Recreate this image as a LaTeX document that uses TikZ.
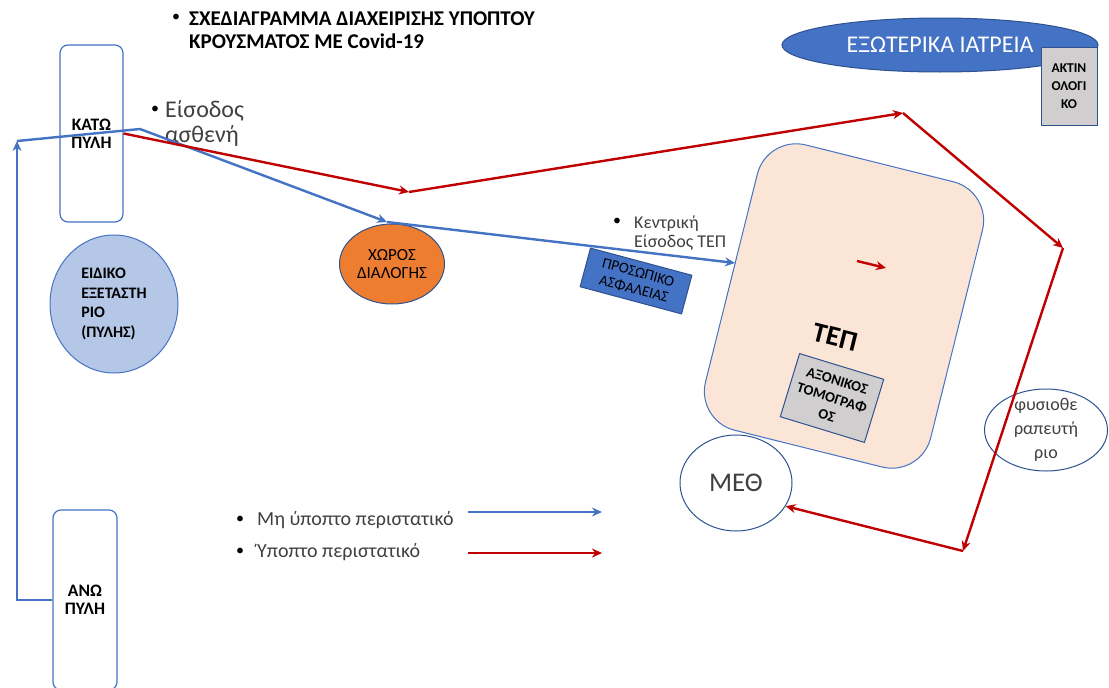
\documentclass[tikz,border=0pt]{standalone}
\usepackage{fontspec}
\setmainfont{Carlito}
\usetikzlibrary{shapes.geometric,positioning,arrows.meta}
\definecolor{flowblue}{HTML}{4472C4}
\definecolor{edgeblue}{HTML}{2F528F}
\definecolor{flowred}{HTML}{C00000}
\definecolor{tepfill}{HTML}{FBE5D6}
\definecolor{roomgray}{HTML}{D0CECE}
\definecolor{triage}{HTML}{ED7D31}
\definecolor{paleblue}{HTML}{B4C7E7}
\definecolor{textgray}{HTML}{404040}
\newcommand{\setfs}[2]{\fontsize{#1}{#2}\selectfont}

\begin{document}
\begin{tikzpicture}[x=1pt,y=-1pt,>={Stealth[length=10pt,width=9pt]},
  gate node/.style={draw=flowblue,line width=1.2pt,rounded corners=8pt,align=center,inner sep=0pt,font=\bfseries\setfs{17.5}{18}},
  room node/.style={draw=edgeblue,line width=1pt,align=center,inner sep=0pt},
  plain text/.style={align=left,inner sep=0pt,text=textgray},
  bullet/.style={inner sep=0pt,font=\setfs{16}{16}},
  blueflow/.style={draw=flowblue,line width=2.4pt},
  redflow/.style={draw=flowred,line width=2.4pt}]

  \useasboundingbox[fill=white] (0,0) rectangle (1109,688);

  % title
  \node[bullet] (tbul) at (176,18) {•};
  \node[anchor=west,align=left,inner sep=0pt,font=\bfseries\setfs{21}{23}] (title) at (189,30)
    {ΣΧΕΔΙΑΓΡΑΜΜΑ ΔΙΑΧΕΙΡΙΣΗΣ ΥΠΟΠΤΟΥ\\ΚΡΟΥΣΜΑΤΟΣ ΜΕ Covid-19};

  % gates and rooms
  \node[gate node,minimum width=63pt,minimum height=177pt] (kato) at (91.5,133.5) {ΚΑΤΩ\\ΠΥΛΗ};
  \node[gate node,minimum width=64pt,minimum height=180pt] (ano) at (85,600) {ΑΝΩ\\ΠΥΛΗ};
  \node[room node,ellipse,fill=paleblue,draw=flowblue,minimum width=128pt,minimum height=138pt,
    align=left,font=\bfseries\setfs{16}{19.5}] (exam) at (114,304) {ΕΙΔΙΚΟ\\ΕΞΕΤΑΣΤΗ\\ΡΙΟ\\(ΠΥΛΗΣ)};
  \node[room node,ellipse,fill=triage,minimum width=105pt,minimum height=80pt,
    font=\setfs{17}{18}] (xoros) at (392,264) {ΧΩΡΟΣ\\ΔΙΑΛΟΓΗΣ};
  \node[room node,fill=flowblue,rotate=-15,minimum width=105pt,minimum height=40pt,
    text=black,font=\setfs{15}{17}] (staff) at (636,281) {ΠΡΟΣΩΠΙΚΟ\\ΑΣΦΑΛΕΙΑΣ};
  \node[room node,draw=flowblue,fill=tepfill,rounded corners=40pt,rotate=-14,
    minimum width=232pt,minimum height=294pt] (tep) at (844,306) {};
  \node[rotate=-14,inner sep=0pt,font=\bfseries\setfs{28}{30}] (teplabel) at (835,337) {ΤΕΠ};
  \node[room node,fill=roomgray,rotate=-17,minimum width=88pt,minimum height=66pt,
    font=\bfseries\setfs{14.5}{18}] (ct) at (832,398) {ΑΞΟΝΙΚΟΣ\\ΤΟΜΟΓΡΑΦ\\ΟΣ};
  \node[room node,ellipse,minimum width=112pt,minimum height=96pt,text=textgray,
    font=\setfs{27}{30}] (meth) at (736,483) {ΜΕΘ};
  \node[room node,ellipse,minimum width=123pt,minimum height=82pt] (physio) at (1046,430) {};
  \node[plain text,align=center,font=\setfs{18}{24}] (physiolabel) at (physio) {φυσιοθε\\ραπευτή\\ριο};
  \node[room node,ellipse,fill=flowblue,minimum width=316pt,minimum height=54pt,
    text=white,font=\setfs{24}{26}] (outpat) at (940,45) {ΕΞΩΤΕΡΙΚΑ ΙΑΤΡΕΙΑ};
  \node[room node,fill=roomgray,minimum width=56pt,minimum height=78pt,
    font=\bfseries\setfs{13.5}{18}] (xray) at (1069,86) {ΑΚΤΙΝ\\ΟΛΟΓΙ\\ΚΟ};

  % labels
  \node[bullet] (ebul) at (155,110) {•};
  \node[plain text,anchor=west,font=\setfs{24}{25}] (entry) at (165,123) {Είσοδος\\ασθενή};
  \node[bullet] (cbul) at (617,222) {•};
  \node[plain text,anchor=west,font=\setfs{18}{19}] (central) at (634,233) {Κεντρική\\Είσοδος ΤΕΠ};

  % non suspected route
  \coordinate (b0) at (17,600);
  \coordinate (b1) at (17,141);
  \coordinate (b2) at (140,129);
  \coordinate (b3) at (387,222);
  \coordinate (b4) at (735,263);
  \draw[blueflow,->] (ano.west) -- (b0) -- (b1);
  \draw[blueflow,->] (b1) -- (b2) -- (b3);
  \draw[blueflow,->] (b3) -- (b4);

  % suspected route
  \coordinate (r1) at (409,192);
  \coordinate (r2) at (903,113);
  \coordinate (r3) at (1063,248);
  \coordinate (r4) at (963,551);
  \draw[redflow,->] (kato.east) -- (r1);
  \draw[redflow,->] (r1) -- (r2);
  \draw[redflow,->] (r2) -- (r3);
  \draw[redflow,->] (r3) -- (r4);
  \draw[redflow,->] (r4) -- (meth.-25);
  \coordinate (t1) at (857,261);
  \coordinate (t2) at (886,268);
  \draw[redflow,->] (t1) -- (t2);

  % legend
  \node[bullet] (lbul1) at (240,520) {•};
  \node[plain text,anchor=west,font=\setfs{20}{22}] (leg1) at (257,520) {Μη ύποπτο περιστατικό};
  \node[bullet] (lbul2) at (240,552) {•};
  \node[plain text,anchor=west,font=\setfs{20}{22}] (leg2) at (257,552) {Ύποπτο περιστατικό};
  \coordinate (lb0) at (468,512);
  \coordinate (lb1) at (602,512);
  \coordinate (lr0) at (468,553);
  \coordinate (lr1) at (602,553);
  \draw[blueflow,->] (lb0) -- (lb1);
  \draw[redflow,->] (lr0) -- (lr1);
\end{tikzpicture}
\end{document}
